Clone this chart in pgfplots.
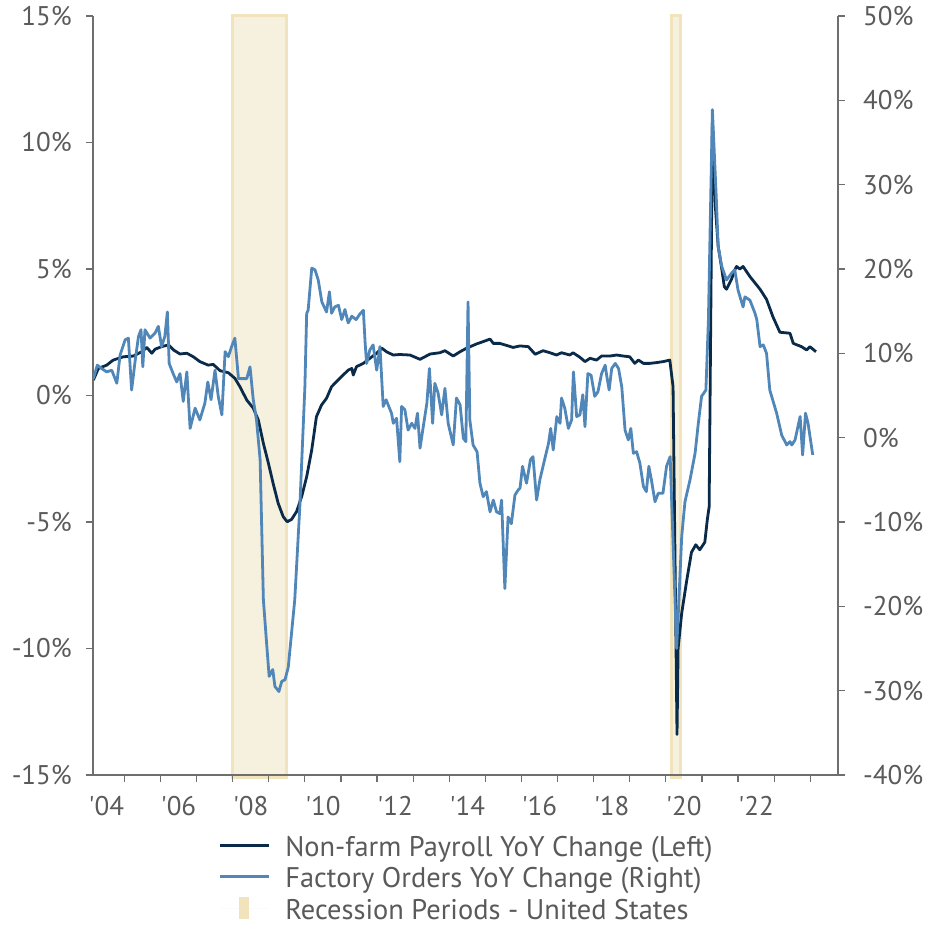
\documentclass[border=0pt]{standalone}
\usepackage{fontspec}
\setmainfont{PT Sans}
\usepackage{pgfplots}
\pgfplotsset{compat=1.18}
\definecolor{navyc}{HTML}{0A2A4A}
\definecolor{steelc}{HTML}{5087B8}
\definecolor{recfill}{HTML}{F6F0DE}
\definecolor{recedge}{HTML}{F1E3BC}
\definecolor{axisgray}{HTML}{6E6E6E}
\definecolor{textgray}{HTML}{5A5A5A}
\newcommand\cf{\fontsize{27bp}{32bp}\selectfont}
\newcommand\lf{\fontsize{28.4bp}{32bp}\selectfont}
\pgfplotsset{
  longline/.style={legend image code/.code={\draw[##1] (0bp,0bp) -- (49bp,0bp);}},
  recbox/.style={legend image code/.code={\fill[##1] (19.5bp,-11bp) rectangle (29.5bp,11bp); \path (0bp,0bp) -- (49bp,0bp);}},
}
\begin{document}
\begin{tikzpicture}
\useasboundingbox (0,0) rectangle (936bp,927bp);
\begin{axis}[
  at={(93bp,152bp)}, anchor=south west,
  scale only axis, width=745bp, height=759bp,
  xmin=2004.13, xmax=2024.77, ymin=-15, ymax=15,
  axis x line*=bottom, axis y line*=left,
  axis line style={axisgray, line width=1.2bp},
  tick style={axisgray, line width=1.2bp},
  tick align=outside, major tick length=7bp,
  xtick={2005,2006,...,2024}, xticklabels={},
  extra x ticks={2004.5,2006.5,2008.5,2010.5,2012.5,2014.5,2016.5,2018.5,2020.5,2022.5},
  extra x tick labels={\textquotesingle04,\textquotesingle06,\textquotesingle08,\textquotesingle10,\textquotesingle12,\textquotesingle14,\textquotesingle16,\textquotesingle18,\textquotesingle20,\textquotesingle22},
  extra x tick style={major tick length=0pt},
  xticklabel style={anchor=north, inner sep=0pt, yshift=-21bp},
  ytick={-15,-10,...,15},
  yticklabels={-15\%,-10\%,-5\%,0\%,5\%,10\%,15\%},
  yticklabel style={anchor=east, inner sep=0pt, xshift=-14bp},
  ticklabel style={font=\cf, text=textgray},
  clip=false, axis on top,
]
\addplot[fill=recfill, draw=recedge, line width=3bp] coordinates {(2008.0,-15.1) (2008.0,15) (2009.5,15) (2009.5,-15.1)} -- cycle;
\addplot[fill=recfill, draw=recedge, line width=3bp] coordinates {(2020.16,-15.1) (2020.16,15) (2020.4,15) (2020.4,-15.1)} -- cycle;
\addplot[navyc, line width=2.8bp, line join=round] coordinates {
(2004.14,0.61) (2004.28,1.07) (2004.51,1.2) (2004.69,1.4) (2004.97,1.53) (2005.25,1.56)
(2005.48,1.73) (2005.62,1.9) (2005.76,1.67) (2005.85,1.83) (2006.03,1.93) (2006.22,2.0)
(2006.36,1.8) (2006.54,1.64) (2006.73,1.67) (2006.91,1.53) (2007.09,1.34) (2007.32,1.2)
(2007.46,1.23) (2007.65,0.98) (2007.88,0.9) (2008.06,0.68) (2008.2,0.35) (2008.39,-0.18)
(2008.57,-0.5) (2008.71,-0.97) (2008.85,-1.89) (2008.99,-2.68) (2009.12,-3.47) (2009.26,-4.26)
(2009.4,-4.79) (2009.51,-4.99) (2009.63,-4.9) (2009.77,-4.59) (2009.91,-4.0) (2010.05,-3.21)
(2010.19,-2.15) (2010.32,-0.84) (2010.46,-0.38) (2010.6,-0.11) (2010.74,0.35) (2010.88,0.55)
(2011.06,0.81) (2011.2,1.0) (2011.3,1.07) (2011.34,0.81) (2011.43,1.14) (2011.62,1.27)
(2011.8,1.47) (2011.99,1.67) (2012.13,1.87) (2012.27,1.72) (2012.45,1.6) (2012.63,1.62)
(2012.91,1.6) (2013.19,1.43) (2013.47,1.64) (2013.74,1.69) (2013.88,1.77) (2014.11,1.56)
(2014.3,1.73) (2014.48,1.87) (2014.76,2.04) (2014.94,2.13) (2015.13,2.23) (2015.22,2.06)
(2015.4,2.06) (2015.54,2.0) (2015.77,1.9) (2015.96,1.96) (2016.19,1.93) (2016.38,1.63)
(2016.6,1.77) (2016.79,1.69) (2016.97,1.6) (2017.11,1.69) (2017.34,1.6) (2017.43,1.69)
(2017.62,1.51) (2017.76,1.34) (2017.9,1.47) (2018.08,1.4) (2018.22,1.56) (2018.45,1.56)
(2018.64,1.6) (2018.82,1.56) (2019.0,1.53) (2019.14,1.27) (2019.24,1.4) (2019.38,1.27)
(2019.56,1.27) (2019.74,1.3) (2019.93,1.34) (2020.11,1.4) (2020.2,0.35) (2020.31,-13.4)
(2020.34,-10.0) (2020.44,-8.6) (2020.58,-7.3) (2020.71,-6.2) (2020.83,-5.9) (2020.94,-6.1)
(2021.08,-5.8) (2021.15,-4.9) (2021.2,-4.4) (2021.29,10.6) (2021.37,7.5) (2021.45,5.9)
(2021.55,5.0) (2021.62,4.3) (2021.68,4.2) (2021.82,4.6) (2021.91,4.96) (2021.96,5.1)
(2022.05,5.0) (2022.14,5.1) (2022.33,4.7) (2022.61,4.2) (2022.79,3.8) (2022.97,3.1)
(2023.16,2.5) (2023.44,2.46) (2023.53,2.06) (2023.76,1.93) (2023.9,1.8) (2023.99,1.93)
(2024.16,1.73)
};
\end{axis}
\begin{axis}[
  at={(93bp,152bp)}, anchor=south west,
  scale only axis, width=745bp, height=759bp,
  xmin=2004.13, xmax=2024.77, ymin=-40, ymax=50,
  axis x line=none, axis y line*=right,
  axis line style={axisgray, line width=1.2bp},
  tick style={axisgray, line width=1.2bp},
  tick align=outside, major tick length=7bp,
  xtick=\empty,
  ytick={-40,-30,...,50},
  yticklabels={-40\%,-30\%,-20\%,-10\%,0\%,10\%,20\%,30\%,40\%,50\%},
  yticklabel style={anchor=west, inner sep=0pt, xshift=18bp},
  ticklabel style={font=\cf, text=textgray},
  legend style={at={(0.5,-0.074)}, anchor=north, draw=none, fill=none, inner sep=0pt,
    font=\lf, text=textgray, column sep=15bp, row sep=3.5bp,
    nodes={inner sep=0pt, text height=25bp, text depth=3bp}},
  legend cell align=left,
]
\addlegendimage{navyc, line width=2.8bp, longline}
\addlegendentry{Non-farm Payroll YoY Change (Left)}
\addplot[steelc, line width=2.8bp, line join=round, longline] coordinates {
(2004.14,7.0) (2004.25,8.6) (2004.37,8.2) (2004.51,7.8) (2004.65,8.0) (2004.79,6.45)
(2004.88,9.8) (2005.02,11.6) (2005.11,11.8) (2005.2,5.65) (2005.3,9.2) (2005.39,12.0)
(2005.46,12.8) (2005.51,8.4) (2005.57,12.8) (2005.71,11.8) (2005.85,12.4) (2005.94,13.2)
(2006.03,10.8) (2006.12,12.0) (2006.19,14.9) (2006.24,8.8) (2006.35,7.6) (2006.45,6.6)
(2006.54,7.6) (2006.63,4.3) (2006.73,7.8) (2006.82,1.1) (2006.96,3.5) (2007.09,2.1)
(2007.23,4.1) (2007.31,6.6) (2007.4,4.5) (2007.51,8.0) (2007.6,4.9) (2007.7,2.7)
(2007.79,10.2) (2007.88,9.6) (2007.97,10.8) (2008.06,11.8) (2008.16,7.0) (2008.29,7.0)
(2008.39,7.0) (2008.48,8.4) (2008.57,4.5) (2008.66,2.1) (2008.76,-2.6) (2008.85,-19.2)
(2008.94,-24.4) (2009.01,-28.3) (2009.11,-27.5) (2009.17,-29.5) (2009.28,-30.1) (2009.36,-28.9)
(2009.45,-28.7) (2009.54,-27.2) (2009.63,-23.2) (2009.72,-19.2) (2009.86,-8.2) (2010.0,6.0)
(2010.05,14.75) (2010.09,15.1) (2010.19,20.1) (2010.28,19.9) (2010.37,18.7) (2010.47,16.1)
(2010.6,14.9) (2010.68,17.3) (2010.74,14.75) (2010.83,15.5) (2010.93,15.7) (2011.02,14.0)
(2011.11,15.2) (2011.2,13.6) (2011.3,14.4) (2011.42,14.0) (2011.53,14.7) (2011.62,15.1)
(2011.67,11.2) (2011.71,8.8) (2011.8,10.4) (2011.89,11.0) (2011.99,8.0) (2012.08,10.8)
(2012.17,3.7) (2012.25,4.5) (2012.4,2.9) (2012.45,1.7) (2012.54,2.3) (2012.63,-2.85)
(2012.68,3.7) (2012.77,3.3) (2012.86,0.9) (2012.96,1.7) (2013.05,1.1) (2013.12,2.9)
(2013.19,-1.25) (2013.28,1.3) (2013.38,4.1) (2013.45,8.2) (2013.54,1.7) (2013.6,6.45)
(2013.69,5.3) (2013.79,2.7) (2013.88,5.85) (2013.97,1.7) (2014.11,-0.87) (2014.2,4.7)
(2014.3,3.9) (2014.39,-0.07) (2014.46,-0.47) (2014.52,16.1) (2014.57,2.1) (2014.66,-0.87)
(2014.77,-1.66) (2014.85,-5.4) (2014.94,-7.0) (2015.03,-6.4) (2015.13,-8.8) (2015.22,-7.4)
(2015.31,-8.8) (2015.4,-9.0) (2015.45,-7.4) (2015.54,-17.9) (2015.63,-9.4) (2015.72,-10.2)
(2015.82,-6.8) (2015.91,-6.2) (2015.96,-6.0) (2016.03,-3.4) (2016.14,-5.4) (2016.25,-2.6)
(2016.32,-2.25) (2016.42,-7.4) (2016.51,-5.0) (2016.65,-2.45) (2016.75,-0.67) (2016.81,1.1)
(2016.88,-1.46) (2016.98,2.5) (2017.07,1.7) (2017.11,4.7) (2017.2,3.5) (2017.3,1.1)
(2017.39,2.1) (2017.44,7.8) (2017.53,2.5) (2017.62,2.7) (2017.7,5.1) (2017.76,1.3)
(2017.84,7.6) (2017.93,7.4) (2018.03,4.9) (2018.12,5.45) (2018.22,7.6) (2018.32,8.6)
(2018.36,7.4) (2018.43,5.65) (2018.5,8.2) (2018.6,8.8) (2018.69,8.2) (2018.78,6.0)
(2018.87,0.9) (2018.96,-0.27) (2019.03,1.1) (2019.1,-1.85) (2019.19,-1.66) (2019.28,-3.0)
(2019.38,-5.8) (2019.46,-6.4) (2019.53,-3.4) (2019.6,-5.0) (2019.7,-7.6) (2019.79,-6.6)
(2019.92,-6.6) (2020.02,-3.4) (2020.12,-2.25) (2020.3,-25.0) (2020.35,-20.4) (2020.44,-11.7)
(2020.53,-7.6) (2020.67,-5.0) (2020.81,-1.85) (2020.9,1.7) (2020.99,4.9) (2021.11,5.65)
(2021.18,14.0) (2021.29,38.9) (2021.4,28.2) (2021.45,22.65) (2021.55,20.3) (2021.68,18.7)
(2021.82,19.5) (2021.91,19.9) (2022.0,17.5) (2022.14,15.5) (2022.19,16.7) (2022.33,16.3)
(2022.47,14.75) (2022.52,14.0) (2022.61,10.8) (2022.7,11.0) (2022.79,10.0) (2022.88,5.65)
(2023.07,2.9) (2023.21,0.3) (2023.35,-0.87) (2023.44,-0.47) (2023.49,-0.87) (2023.58,-0.27)
(2023.72,2.5) (2023.79,-2.05) (2023.87,2.9) (2023.94,1.7) (2024.07,-2.05)
};
\addlegendentry{Factory Orders YoY Change (Right)}
\addlegendimage{recbox, fill=recedge, draw=none}
\addlegendentry{Recession Periods - United States}
\end{axis}
\end{tikzpicture}
\end{document}
